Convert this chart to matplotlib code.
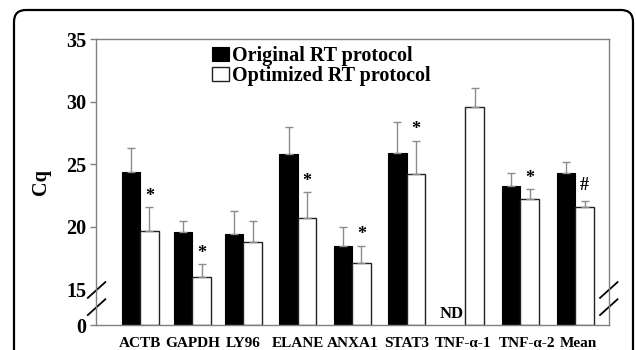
import numpy as np
import matplotlib.pyplot as plt
import matplotlib.transforms as mtrans
from matplotlib.patches import FancyBboxPatch

plt.rcParams['font.family'] = ['Liberation Serif', 'DejaVu Serif']
plt.rcParams['font.weight'] = 'bold'

######## DATA ##########
genes = ['ACTB', 'GAPDH', 'LY96', 'ELANE', 'ANXA1', 'STAT3', 'TNF-α-1', 'TNF-α-2', 'Mean']
orig_cq = [24.4, 19.6, 19.4, 25.8, 18.5, 25.9, np.nan, 23.3, 24.3]
orig_sd = [1.9, 0.9, 1.9, 2.2, 1.5, 2.5, np.nan, 1.0, 0.9]
opt_cq = [19.7, 16.0, 18.8, 20.7, 17.1, 24.2, 29.6, 22.2, 21.6]
opt_sd = [1.9, 1.0, 1.7, 2.1, 1.4, 2.7, 1.5, 0.8, 0.5]
signif = ['*', '*', '', '*', '*', '*', '', '*', '#']
yticks = [0, 15, 20, 25, 30, 35]

######## BROKEN AXIS SCALE ##########
GAP = 2.86  # room given to 0..15

def fwd(v):
    v = np.asarray(v, float)
    return np.where(v >= 15, v - 15 + GAP, v * GAP / 15)

def inv(u):
    u = np.asarray(u, float)
    return np.where(u >= GAP, u + 15 - GAP, u * 15 / GAP)

######## PLOT ##########
fig = plt.figure(figsize=(6.36, 3.5), dpi=100)
ax = fig.add_axes([0.151, 0.0714, 0.807, 0.8163])
ax.set_yscale('function', functions=(fwd, inv))

xpos = np.array([0, 0.96, 1.9, 2.9, 3.9, 4.9, 5.98, 6.99, 8.0])
w = 0.34

ax.bar(xpos - w/2, orig_cq, w, color='black', edgecolor='black', lw=0.8,
       label='Original RT protocol')
ax.bar(xpos + w/2, opt_cq, w, color='white', edgecolor='#222222', lw=1,
       label='Optimized RT protocol')
ax.errorbar(xpos - w/2, orig_cq, yerr=[np.zeros(len(genes)), orig_sd], fmt='none',
            ecolor='#8c8c8c', elinewidth=1, capsize=3, capthick=1)
ax.errorbar(xpos + w/2, opt_cq, yerr=[np.zeros(len(genes)), opt_sd], fmt='none',
            ecolor='#8c8c8c', elinewidth=1, capsize=3, capthick=1)

for i, s in enumerate(signif):
    if s:
        off = 4.5 if s == '*' else 7.5
        ax.annotate(s, (xpos[i] + w/2, opt_cq[i] + opt_sd[i]), xytext=(0, off),
                    textcoords='offset points', ha='center', va='baseline',
                    fontsize=13, fontweight='bold')

nd = int(np.where(np.isnan(orig_cq))[0][0])
ax.annotate('ND', (xpos[nd] - w/2, 0), xytext=(-3.5, 5), textcoords='offset points',
            ha='center', va='baseline', fontsize=12, fontweight='bold')

ax.set_xlim(-0.809, 8.625)
ax.set_ylim(0, 35)
ax.set_yticks(yticks)
ax.set_yticklabels([str(t) for t in yticks])
ax.yaxis.get_major_ticks()[1].tick1line.set_visible(False)
ax.set_xticks(xpos)
ax.set_xticklabels(genes)
ax.tick_params(axis='x', length=0, pad=8.5, labelsize=11)
ax.tick_params(axis='y', length=4, width=1, color='#808080', pad=3, labelsize=14.5)
ax.set_ylabel('Cq', fontsize=14.5, fontweight='bold', labelpad=11)
for sp in ax.spines.values():
    sp.set_color('#808080')
    sp.set_linewidth(1)

# nudge the crowded labels apart like the original
shifts = {'TNF-α-1': -2, 'TNF-α-2': 7, 'Mean': 3}
for lab in ax.get_xticklabels():
    dx = shifts.get(lab.get_text(), 0)
    if dx:
        lab.set_transform(lab.get_transform() +
                          mtrans.ScaledTranslation(dx / 100, 0, fig.dpi_scale_trans))

# axis break slashes
for x0, x1 in [(-0.016, 0.018), (0.982, 1.016)]:
    ax.plot([x0, x1], [0.095, 0.15], transform=ax.transAxes, color='black',
            lw=1.3, clip_on=False)
    ax.plot([x0, x1], [0.035, 0.09], transform=ax.transAxes, color='black',
            lw=1.3, clip_on=False)

ax.legend(loc='upper left', bbox_to_anchor=(0.226, 0.975), frameon=False,
          borderaxespad=0, borderpad=0, handlelength=0.85, handleheight=0.7,
          handletextpad=0.15, labelspacing=0.0, fontsize=14.5)

frame = FancyBboxPatch((0.14, -0.5), 6.19, 3.9, boxstyle='round,pad=0,rounding_size=0.12',
                       transform=fig.dpi_scale_trans, fill=False, ec='black', lw=1.6)
fig.add_artist(frame)

fig.savefig('out.png', dpi=100)
